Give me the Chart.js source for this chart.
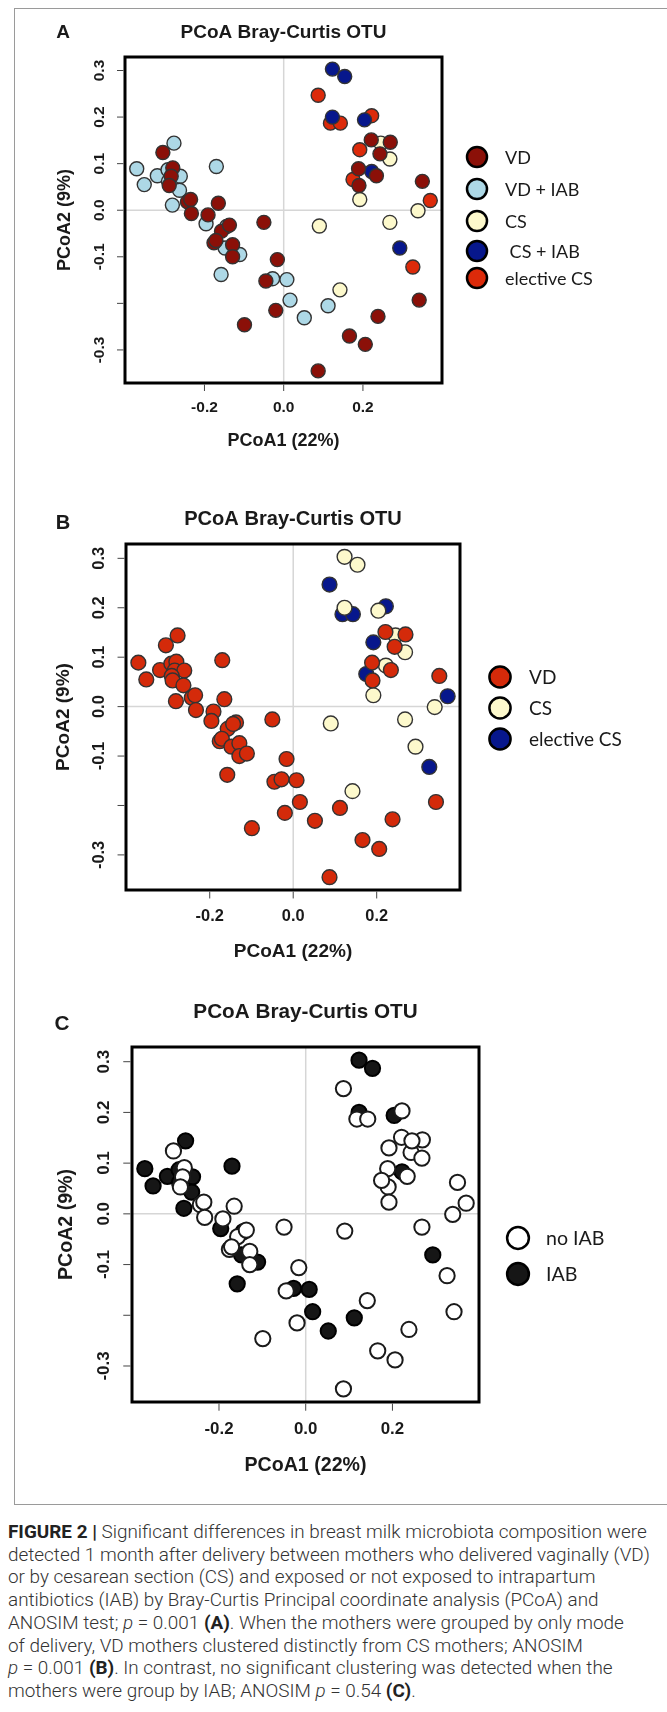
<!DOCTYPE html>
<html>
<head>
<meta charset="utf-8">
<script src="https://cdn.jsdelivr.net/npm/chart.js@4.4.0/dist/chart.umd.min.js"></script>
<style>
  body { margin: 0; background: #fff; width: 667px; height: 1712px; position: relative; overflow: hidden; }
  canvas { position: absolute; left: 0; }
  #frame { position: absolute; left: 14px; top: 8px; width: 660px; height: 1497px; border: 1px solid #9a9a9a; box-sizing: border-box; }
  #caption { position: absolute; left: 8px; top: 1521px; font-family: Roboto, "Liberation Sans", sans-serif; font-size: 18.9px;
             font-weight: 300; line-height: 22.7px; color: #333; white-space: nowrap; }
  #caption b { font-weight: bold; color: #222; }
</style>
</head>
<body>
<div id="frame"></div>
<canvas id="panelA" width="667" height="495" style="top:0px"></canvas>
<canvas id="panelB" width="667" height="495" style="top:495px"></canvas>
<canvas id="panelC" width="667" height="520" style="top:990px"></canvas>
<div id="caption">
<b>FIGURE 2 |</b> Significant differences in breast milk microbiota composition were<br>
detected 1 month after delivery between mothers who delivered vaginally (VD)<br>
or by cesarean section (CS) and exposed or not exposed to intrapartum<br>
antibiotics (IAB) by Bray-Curtis Principal coordinate analysis (PCoA) and<br>
ANOSIM test; <i>p</i> = 0.001 <b>(A)</b>. When the mothers were grouped by only mode<br>
of delivery, VD mothers clustered distinctly from CS mothers; ANOSIM<br>
<i>p</i> = 0.001 <b>(B)</b>. In contrast, no significant clustering was detected when the<br>
mothers were group by IAB; ANOSIM <i>p</i> = 0.54 <b>(C)</b>.
</div>
<script>
// PCoA coordinates of each mother (same ordination in all three panels)
const pcoa1 = [-0.371, -0.352, -0.305, -0.277, -0.319, -0.292, -0.280, -0.284, -0.261, -0.291,
               -0.289, -0.263, -0.281, -0.243, -0.235, -0.233, -0.170, -0.165, -0.191, -0.196,
               -0.157, -0.137, -0.144, -0.176, -0.171, -0.148, -0.129, -0.129, -0.111, -0.158,
               -0.050, -0.016, -0.045, -0.028, 0.008, 0.016, -0.020, -0.099, 0.052, 0.112,
               0.166, 0.206, 0.087, 0.238, 0.342, 0.350,
               0.221, 0.269, 0.243, 0.189, 0.234, 0.190,
               0.123, 0.154, 0.123, 0.204, 0.245, 0.268, 0.222, 0.192, 0.090, 0.268, 0.293, 0.142, 0.339,
               0.087, 0.118, 0.143, 0.222, 0.192, 0.175, 0.326, 0.370];
const pcoa2 = [0.089, 0.055, 0.124, 0.144, 0.074, 0.087, 0.091, 0.073, 0.073, 0.062,
               0.053, 0.043, 0.011, 0.018, 0.023, -0.007, 0.094, 0.015, -0.010, -0.029,
               -0.045, -0.032, -0.035, -0.070, -0.065, -0.081, -0.074, -0.100, -0.095, -0.138,
               -0.026, -0.106, -0.152, -0.147, -0.149, -0.193, -0.215, -0.246, -0.231, -0.205,
               -0.270, -0.288, -0.345, -0.228, -0.193, 0.062,
               0.151, 0.146, 0.121, 0.089, 0.074, 0.053,
               0.303, 0.287, 0.200, 0.194, 0.144, 0.110, 0.083, 0.023, -0.034, -0.026, -0.081, -0.171, -0.001,
               0.247, 0.187, 0.187, 0.203, 0.130, 0.066, -0.122, 0.021];
// mode of delivery: VD vaginal, CS cesarean, eCS elective cesarean
const delivery = ['VD','VD','VD','VD','VD','VD','VD','VD','VD','VD',
                  'VD','VD','VD','VD','VD','VD','VD','VD','VD','VD',
                  'VD','VD','VD','VD','VD','VD','VD','VD','VD','VD',
                  'VD','VD','VD','VD','VD','VD','VD','VD','VD','VD',
                  'VD','VD','VD','VD','VD','VD',
                  'VD','VD','VD','VD','VD','VD',
                  'CS','CS','CS','CS','CS','CS','CS','CS','CS','CS','CS','CS','CS',
                  'eCS','eCS','eCS','eCS','eCS','eCS','eCS','eCS'];
// intrapartum antibiotics: 1 exposed, 0 not exposed
const iab = [1, 1, 0, 1, 1, 1, 0, 0, 1, 1,
             0, 1, 1, 0, 0, 0, 1, 0, 0, 1,
             0, 0, 1, 0, 0, 1, 0, 0, 1, 1,
             0, 0, 0, 1, 1, 1, 0, 0, 1, 1,
             0, 0, 0, 0, 0, 0,
             0, 0, 0, 0, 0, 0,
             1, 1, 1, 1, 0, 0, 1, 0, 0, 0, 1, 0, 0,
             0, 0, 0, 0, 0, 0, 0, 0];

const xTickVals = [-0.2, 0.0, 0.2];
const xTickText = ['-0.2', '0.0', '0.2'];
const yTickVals = [0.3, 0.2, 0.1, 0.0, -0.1, -0.2, -0.3];
const yTickText = ['0.3', '0.2', '0.1', '0.0', '-0.1', '', '-0.3'];
const xLimits = [-0.4006, 0.3996];
const yLimits = [-0.371, 0.329];

const titleText = 'PCoA Bray-Curtis OTU';
const xTitle = 'PCoA1 (22%)';
const yTitle = 'PCoA2 (9%)';

const W = 667;
const panels = [
  { canvas: 'panelA', letter: 'A', top: 0, height: 495, s: 1,
    box: { l: 125, t: 57, r: 442, b: 383 }, titleY: 33, letterX: 63, letterY: 33, yTitleX: 65,
    legend: { cx: 477, tx: 505, ys: [157, 189, 221, 251, 278] },
    groups: [
      { label: 'VD', fill: '#8b1008', edge: '#333', pick: i => delivery[i] === 'VD' && !iab[i] },
      { label: 'VD + IAB', fill: '#add8e6', edge: '#333', pick: i => delivery[i] === 'VD' && iab[i] },
      { label: 'CS', fill: '#fdf9cc', edge: '#333', pick: i => delivery[i] === 'CS' && !iab[i] },
      { label: ' CS + IAB', fill: '#07178c', edge: '#333', pick: i => delivery[i] === 'CS' && iab[i] },
      { label: 'elective CS', fill: '#dc2a0a', edge: '#333', pick: i => delivery[i] === 'eCS' }
    ] },
  { canvas: 'panelB', letter: 'B', top: 495, height: 495, s: 1.058,
    box: { l: 126, t: 544, r: 460, b: 890 }, titleY: 519, letterX: 63, letterY: 523, yTitleX: 64,
    legend: { cx: 500, tx: 529, ys: [677, 708, 739] },
    groups: [
      { label: 'VD', fill: '#d42a0a', edge: '#333', pick: i => delivery[i] === 'VD' },
      { label: 'CS', fill: '#fdf9cc', edge: '#333', pick: i => delivery[i] === 'CS' },
      { label: 'elective CS', fill: '#07178c', edge: '#333', pick: i => delivery[i] === 'eCS' }
    ] },
  { canvas: 'panelC', letter: 'C', top: 990, height: 520, s: 1.09,
    box: { l: 132, t: 1047, r: 479, b: 1402 }, titleY: 1012, letterX: 62, letterY: 1024, yTitleX: 67,
    legend: { cx: 518, tx: 546, ys: [1238, 1274] },
    groups: [
      { label: 'no IAB', fill: '#ffffff', edge: '#1a1a1a', pick: i => !iab[i] },
      { label: 'IAB', fill: '#161616', edge: '#000', pick: i => iab[i] }
    ] }
];

function decor(p) {
  const off = p.top, s = p.s;
  const sans = '"Liberation Sans", Arial, sans-serif';
  return {
    id: 'decor' + p.letter,
    beforeDatasetsDraw(chart) {
      const { ctx, chartArea: a, scales: { x, y } } = chart;
      const x0 = x.getPixelForValue(0), y0 = y.getPixelForValue(0);
      ctx.save();
      ctx.strokeStyle = '#d6d6d6';
      ctx.lineWidth = 1.5;
      ctx.beginPath();
      ctx.moveTo(x0, a.top); ctx.lineTo(x0, a.bottom);
      ctx.moveTo(a.left, y0); ctx.lineTo(a.right, y0);
      ctx.stroke();
      ctx.restore();
    },
    afterDraw(chart) {
      const { ctx, chartArea: a, scales: { x, y } } = chart;
      ctx.save();
      // box
      ctx.strokeStyle = '#000';
      ctx.lineWidth = 3;
      ctx.strokeRect(a.left, a.top, a.right - a.left, a.bottom - a.top);
      // ticks
      ctx.strokeStyle = '#444';
      ctx.lineWidth = 1;
      ctx.beginPath();
      yTickVals.forEach(v => {
        const py = y.getPixelForValue(v);
        ctx.moveTo(a.left - 8 * s, py); ctx.lineTo(a.left - 1.5, py);
      });
      xTickVals.forEach(v => {
        const px = x.getPixelForValue(v);
        ctx.moveTo(px, a.bottom + 1.5); ctx.lineTo(px, a.bottom + 8 * s);
      });
      ctx.stroke();
      ctx.fillStyle = '#1a1a1a';
      ctx.font = 'bold ' + (15.5 * s) + 'px ' + sans;
      ctx.textAlign = 'center';
      ctx.textBaseline = 'middle';
      xTickVals.forEach((v, i) => ctx.fillText(xTickText[i], x.getPixelForValue(v), a.bottom + 25 * s));
      yTickVals.forEach((v, i) => {
        ctx.save();
        ctx.translate(a.left - 25 * s, y.getPixelForValue(v));
        ctx.rotate(-Math.PI / 2);
        ctx.fillText(yTickText[i], 0, 0);
        ctx.restore();
      });
      // axis titles
      ctx.font = 'bold ' + (18 * s) + 'px ' + sans;
      ctx.fillText(xTitle, (a.left + a.right) / 2, a.bottom + 58 * s);
      ctx.save();
      ctx.translate(p.yTitleX, (a.top + a.bottom) / 2);
      ctx.rotate(-Math.PI / 2);
      ctx.fillText(yTitle, 0, 0);
      ctx.restore();
      // panel title and letter
      ctx.font = 'bold ' + (19 * s) + 'px ' + sans;
      ctx.fillText(titleText, (a.left + a.right) / 2, p.titleY - off);
      ctx.fillText(p.letter, p.letterX, p.letterY - off);
      // legend
      ctx.textAlign = 'left';
      ctx.font = (18 * s) + 'px Lato, "Open Sans", sans-serif';
      p.groups.forEach((g, i) => {
        const cy = p.legend.ys[i] - off;
        ctx.beginPath();
        ctx.arc(p.legend.cx, cy, 10 * s, 0, Math.PI * 2);
        ctx.fillStyle = g.fill;
        ctx.fill();
        ctx.lineWidth = 2.5;
        ctx.strokeStyle = '#000';
        ctx.stroke();
        ctx.fillStyle = '#1a1a1a';
        ctx.fillText(g.label, p.legend.tx, cy + 1);
      });
      ctx.restore();
    }
  };
}

panels.forEach(p => {
  const idx = pcoa1.map((_, i) => i);
  const datasets = p.groups.map(g => ({
    label: g.label.trim(),
    data: idx.filter(g.pick).map(i => ({ x: pcoa1[i], y: pcoa2[i] })),
    backgroundColor: g.fill,
    borderColor: g.edge,
    pointBackgroundColor: g.fill,
    pointBorderColor: g.edge,
    pointBorderWidth: p.letter === 'C' ? 2 : 1.4,
    pointRadius: 7 * p.s,
    pointHoverRadius: 7 * p.s,
    clip: false
  }));
  new Chart(document.getElementById(p.canvas).getContext('2d'), {
    type: 'scatter',
    data: { datasets },
    options: {
      responsive: false,
      animation: false,
      events: [],
      layout: { padding: { left: p.box.l, top: p.box.t - p.top, right: W - p.box.r, bottom: p.top + p.height - p.box.b } },
      plugins: { legend: { display: false }, tooltip: { enabled: false } },
      scales: {
        x: { type: 'linear', display: false, min: xLimits[0], max: xLimits[1] },
        y: { type: 'linear', display: false, min: yLimits[0], max: yLimits[1] }
      }
    },
    plugins: [decor(p)]
  });
});
</script>
</body>
</html>
